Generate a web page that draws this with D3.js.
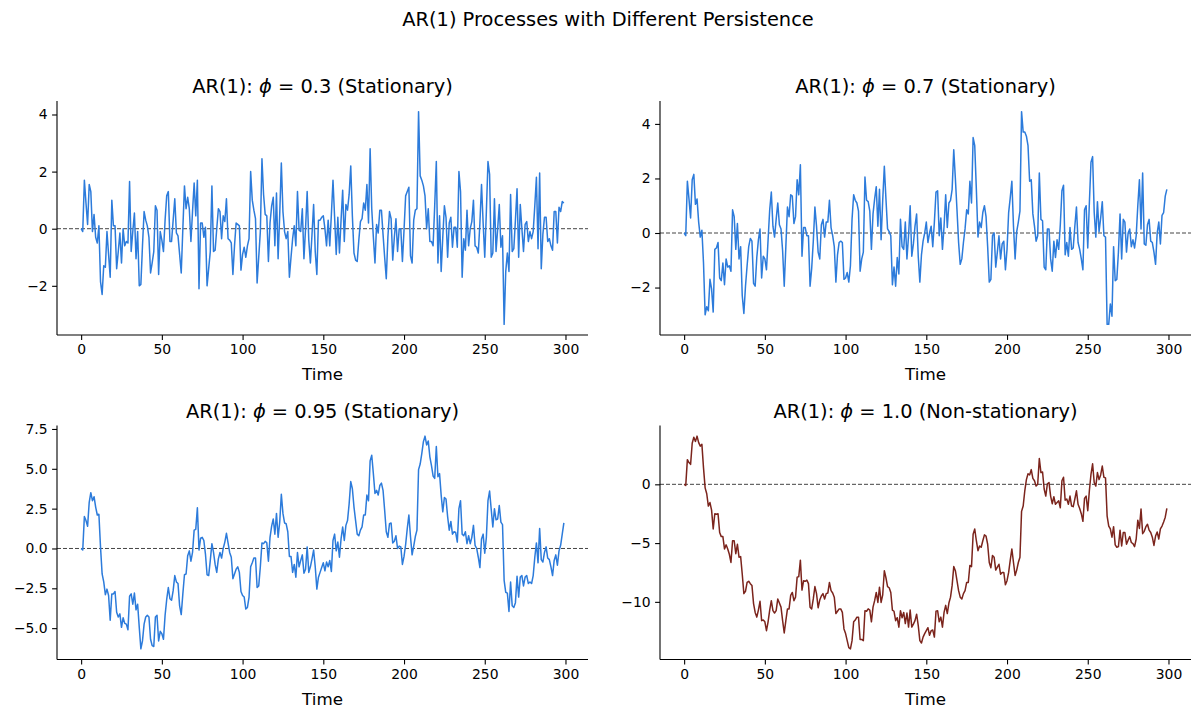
<!DOCTYPE html>
<html>
<head>
<meta charset="utf-8">
<script src="https://cdn.jsdelivr.net/npm/d3@7"></script>
<style>
  body { margin: 0; background: #fff; }
  svg { font-family: "DejaVu Sans", sans-serif; }
</style>
</head>
<body>
<div id="chart"></div>
<script>
// Series (t = 0..299)
const phi03 = [
  0.0, -0.1, 1.7, 0.9, 0.15, 1.55, 1.3, -0.1, 0.5, -0.3,
  -0.5, 0.1, -1.85, -2.3, -1.3, -1.35, -0.1, -0.9, -1.7, 1.0,
  0.1, 0.1, -1.4, -0.8, -0.15, -1.2, 0.0, -0.6, -0.45, -0.5,
  1.65, -0.8, -0.1, 0.55, -1.05, -0.1, -2.0, -1.95, -0.6, 0.6,
  0.3, 0.1, -0.3, -1.55, -1.2, -0.8, 0.8, 0.65, -1.6, -0.1,
  -0.4, -0.8, 0.3, 1.15, 1.3, -0.45, -0.45, 0.3, 1.05, -0.15,
  -0.25, -0.9, -1.55, 0.0, 1.5, 0.7, 1.1, 0.7, -0.45, 0.6,
  1.6, 0.45, 1.7, -2.1, 0.2, 0.2, -0.3, 0.05, -2.0, -1.4,
  -0.8, 1.5, -0.8, -0.75, 0.0, 0.7, 0.6, -0.35, 0.45, 0.25,
  1.05, -0.35, -0.4, -0.5, -1.6, -0.6, 0.2, 0.15, 0.1, -1.45,
  -0.9, -0.65, -1.0, -0.6, -0.35, 2.0, 1.0, 0.65, 0.35, -1.9,
  -1.0, -0.1, 2.45, 1.2, 0.5, 0.45, -1.15, 0.2, 0.8, 1.1,
  -0.6, 1.25, -1.05, 0.5, 2.3, 0.6, -0.1, -0.35, -0.1, -1.7,
  -1.0, -0.35, 0.1, -0.6, 1.3, -0.05, -0.1, 0.7, -1.05, 0.0,
  1.3, -0.4, -1.2, -0.2, 0.85, -0.8, -1.6, 0.3, 0.3, 0.4,
  0.45, 0.0, -0.6, 0.3, -0.6, 0.5, 1.7, 0.4, -0.9, 0.4,
  -0.85, 0.3, 1.35, -0.45, 0.85, 0.65, 1.2, 2.2, 0.45, -0.85,
  -1.1, -1.15, -0.4, 0.25, 0.35, 0.9, 0.65, 1.55, 0.2, 2.8,
  0.7, -0.3, -1.2, 0.15, -0.15, 0.65, 0.65, -0.2, -1.0, -1.75,
  -0.3, 0.6, 0.35, -1.1, -0.3, 0.35, -0.8, 0.0, 0.0, -1.15,
  -0.05, 1.15, 1.3, 1.45, -0.95, -1.2, 0.3, 0.65, 0.7, 4.1,
  1.85, 1.7, 1.5, 1.15, 0.0, 0.7, -0.45, -0.45, -0.6, 0.8,
  2.35, -1.2, 0.45, -1.5, -0.3, 0.8, 0.4, -1.0, 0.2, 0.4,
  -0.65, 0.05, 0.05, -0.65, 2.0, 1.3, -1.7, -0.35, -0.75, 0.65,
  -0.6, 0.0, 0.25, 1.0, -0.6, -0.65, -0.85, 0.2, 1.55, 0.2,
  -1.0, 0.6, 2.35, 1.9, -1.0, -0.85, 1.05, -0.8, 0.0, 0.85,
  -0.65, -0.25, -3.35, -1.5, -0.85, -1.5, 1.2, -0.8, -0.7, 0.3,
  1.4, -1.0, 0.85, 0.0, -0.8, 0.15, 0.25, -0.45, -0.1, -0.35,
  -0.1, 0.8, 1.8, -0.7, 1.95, -1.4, -0.2, 0.4, 0.4, -0.45,
  -0.35, -0.6, -0.75, 0.6, 0.6, -0.5, 0.75, 0.6, 0.95, 0.9
];

const phi07 = [
  0.0, -0.1, 1.9, 1.25, 0.55, 1.95, 2.15, 1.05, 1.25, 0.4,
  -0.15, 0.1, -1.1, -3.0, -2.7, -2.85, -1.7, -2.05, -2.9, -0.6,
  -0.55, -0.35, -1.65, -1.75, -1.1, -1.9, -0.95, -1.25, -1.2, -1.4,
  0.85, 0.6, -0.6, 0.35, -0.95, -0.5, -2.3, -2.95, -1.95, -1.2,
  -0.5, -0.2, -0.3, -1.85, -1.95, -0.9, -0.25, 0.15, -1.65, -0.85,
  -0.95, -1.35, -0.25, 0.85, 1.5, 0.25, -0.15, 0.5, 1.1, 0.3,
  0.15, -0.65, -1.95, -0.5, 0.95, 0.6, 1.4, 1.35, 0.35, 0.6,
  1.95, 1.4, 2.5, -0.85, 0.2, 0.2, -0.1, -0.1, -1.95, -1.3,
  -0.3, 0.95, 0.25, -0.7, -0.95, 0.3, 0.5, -0.15, 0.4, 0.4,
  1.2, 0.2, -0.1, -0.5, -1.8, -0.8, -0.35, -0.3, -0.35, -1.7,
  -1.65, -1.45, -1.8, -1.2, 0.5, 1.4, 1.2, 1.1, 0.8, -1.4,
  -0.95, -0.7, 2.05, 1.2, 1.15, 0.8, -0.6, 0.7, 1.25, 1.7,
  0.25, 1.6, -0.25, 1.2, 2.45, 1.25, 0.15, 0.05, -0.1, -1.9,
  -1.25, -1.95, -0.9, -1.5, 0.5, -0.5, -0.6, 0.4, -0.95, -0.1,
  1.0, -0.85, -0.4, 0.25, 0.7, -0.85, -1.8, -0.8, -0.3, 0.0,
  0.4, -0.35, 0.0, 0.25, -0.5, 0.4, 1.5, 1.55, -0.1, 0.55,
  -0.6, 0.25, 1.4, 0.2, 1.1, 1.2, 1.6, 3.05, 2.0, 0.85,
  -0.35, -1.15, -0.95, -0.35, 0.15, 0.85, 0.7, 1.9, 1.1, 3.5,
  3.2, 1.6, -0.15, 0.4, 0.2, 0.75, 1.0, 0.6, -0.5, -1.8,
  -1.7, -0.1, 0.0, -1.25, -0.7, -0.1, -0.95, -0.4, -0.3, -1.35,
  -0.6, 0.75, 1.3, 1.9, 0.25, -0.95, 0.05, 0.4, 0.8, 4.45,
  3.7, 3.7, 3.55, 3.2, 1.9, 1.95, 0.7, 0.25, -0.3, -0.1,
  2.2, 0.5, 0.45, -1.25, -1.35, 0.15, 0.15, -0.95, -1.4, -0.3,
  -0.9, -0.25, -0.6, 0.3, 1.55, 1.75, -0.8, -0.35, -0.85, 0.2,
  -0.6, -0.55, 0.25, 0.95, -0.35, -0.6, -0.95, -1.35, 0.85, 1.0,
  -0.55, 1.1, 2.6, 2.8, 0.75, -0.15, 1.15, 0.05, 0.55, 1.15,
  -0.1, -0.15, -3.35, -3.35, -2.6, -3.05, -0.5, -1.75, -1.7, -0.7,
  0.7, -0.95, 0.5, 0.4, -0.7, 0.0, 0.15, -0.5, -0.25, -0.55,
  -0.1, 1.0, 1.95, 0.15, 2.2, -0.4, -0.45, 0.3, 0.5, -0.3,
  -0.35, -0.7, -1.15, 0.0, 0.4, -0.4, 0.65, 0.75, 1.35, 1.6
];

const phi095 = [
  0.0, -0.1, 2.0, 1.75, 1.4, 2.9, 3.5, 3.0, 3.25, 2.6,
  2.1, 2.15, 0.1, -1.6, -2.1, -2.9, -2.55, -2.95, -4.5, -2.85,
  -2.85, -2.7, -4.0, -4.3, -4.1, -4.95, -4.35, -4.7, -4.75, -5.1,
  -3.0, -2.85, -3.5, -2.8, -3.85, -3.5, -4.95, -6.3, -5.8, -4.75,
  -4.3, -4.2, -4.3, -5.7, -6.1, -6.15, -4.3, -4.2, -5.8, -5.2,
  -5.35, -5.7, -4.2, -3.2, -2.45, -3.15, -3.25, -2.65, -1.7, -2.1,
  -2.2, -3.6, -4.15, -2.85, -1.65, -1.6, -0.45, -0.15, -0.8, -0.25,
  1.15, 1.2, 2.55, -0.1, 0.65, 0.7, 0.5, -0.35, -1.65, -1.7,
  -0.75, 0.3, -0.25, -1.0, -1.5, -0.65, -0.25, -0.6, 0.0, 0.4,
  0.95, 0.35, -0.25, -0.55, -1.9, -1.6, -1.3, -1.15, -1.5, -2.7,
  -2.95, -3.05, -3.8, -3.7, -3.05, -1.15, -0.9, -0.6, -0.6, -2.45,
  -2.35, -1.15, 0.35, 0.3, 0.45, 0.35, -0.8, 0.7, 1.4, 1.85,
  0.9, 2.2, 0.7, 1.65, 3.4, 2.2, 1.6, 1.55, 1.05, -0.5,
  -0.5, -1.5, -1.0, -1.8, -0.25, -1.15, -0.75, -0.4, -1.55, -1.3,
  0.1, -1.5, -1.15, -0.65, -0.1, -1.15, -2.55, -1.8, -1.5, -1.2,
  -0.9, -1.4, -0.85, -1.15, -0.75, -1.45, 0.5, 0.9, -0.15, 0.4,
  -0.55, 0.6, 1.35, 0.5, 1.45, 1.75, 2.8, 4.2, 3.75, 2.6,
  1.75, 0.9, 0.8, 1.15, 1.35, 2.1, 2.1, 3.35, 3.0, 5.5,
  5.85, 4.7, 3.45, 3.65, 3.35, 3.95, 4.1, 3.65, 2.4, 1.05,
  0.7, 1.55, 1.6, 0.35, 0.45, 0.8, 0.0, 0.15, 0.1, -1.0,
  -0.5, 0.25, 1.25, 2.1, 0.75, -0.4, 0.15, 0.75, 1.15, 4.95,
  5.3, 5.95, 6.7, 7.05, 6.5, 6.75, 5.75, 5.2, 4.55, 4.4,
  6.4, 4.5, 4.7, 3.35, 2.3, 3.2, 3.1, 2.0, 1.15, 1.7,
  0.9, 1.05, 1.0, 0.4, 2.5, 3.0, 0.9, 0.8, 1.05, 0.3,
  0.8, 0.3, 0.7, 1.45, 0.2, 0.0, -0.55, -1.2, 0.6, 0.9,
  -0.3, 0.7, 3.0, 3.6, 2.45, 1.35, 2.5, 1.8, 1.85, 2.7,
  1.65, 1.5, -2.0, -2.75, -2.8, -3.95, -2.1, -3.6, -3.7, -3.4,
  -1.75, -3.05, -1.8, -1.7, -2.35, -1.8, -1.7, -2.2, -2.1, -2.2,
  -1.7, -0.55, 0.35, -0.9, 1.25, -0.7, -0.85, -0.25, 0.1, -0.6,
  -0.7, -1.15, -1.7, -0.75, -0.4, -1.05, -0.15, 0.2, 0.9, 1.6
];

const phi10 = [
  0.0, -0.1, 2.1, 1.85, 1.7, 3.5, 4.0, 3.65, 4.1, 3.55,
  3.25, 3.4, 1.4, -0.3, -0.8, -1.85, -1.55, -2.2, -3.8, -2.5,
  -2.55, -2.5, -4.1, -4.45, -4.45, -5.5, -5.15, -5.5, -5.95, -6.65,
  -4.8, -4.8, -5.9, -5.1, -6.2, -6.15, -7.65, -9.3, -9.1, -8.35,
  -8.25, -8.45, -8.6, -10.15, -10.9, -11.3, -10.7, -9.95, -11.6, -11.55,
  -11.7, -12.45, -11.7, -10.7, -9.9, -10.75, -10.95, -10.75, -9.75, -10.1,
  -10.45, -11.6, -12.65, -11.6, -10.6, -10.6, -9.45, -9.2, -9.9, -9.6,
  -7.9, -7.85, -6.45, -9.0, -8.2, -8.25, -8.15, -8.45, -10.45, -10.6,
  -9.75, -8.7, -9.3, -10.5, -9.85, -9.5, -9.3, -9.75, -9.3, -9.25,
  -8.35, -9.05, -9.25, -9.6, -11.0, -10.8, -10.6, -10.6, -10.9, -12.3,
  -12.7, -13.3, -13.9, -14.0, -13.3, -11.7, -11.55, -11.3, -11.3, -13.2,
  -13.2, -13.3, -10.75, -10.8, -10.6, -10.7, -11.7, -10.45, -9.9, -9.2,
  -10.05, -8.75, -10.05, -9.4, -7.35, -7.95, -8.7, -8.8, -9.2, -10.7,
  -10.8, -11.6, -11.35, -12.15, -10.75, -11.35, -10.9, -11.85, -10.95, -12.15,
  -10.7, -12.15, -11.9, -11.6, -11.05, -12.0, -13.3, -13.5, -13.0, -12.7,
  -12.45, -12.2, -12.85, -12.45, -12.4, -13.0, -10.8, -10.75, -11.7, -11.3,
  -12.15, -10.9, -10.3, -11.0, -10.1, -9.6, -8.6, -7.0, -7.35, -8.2,
  -9.05, -9.6, -9.75, -9.3, -9.05, -8.35, -8.35, -6.9, -7.0, -4.25,
  -3.8, -4.8, -5.65, -5.25, -5.35, -4.8, -4.3, -4.4, -5.1, -6.65,
  -7.1, -6.05, -6.2, -7.3, -7.05, -6.8, -7.65, -7.5, -7.5, -8.55,
  -8.2, -7.5, -6.45, -5.5, -6.65, -7.75, -7.3, -6.65, -6.2, -2.3,
  -1.85, -0.55, 0.4, 0.9, 0.8, 1.25, 0.5, 0.3, -0.15, 0.0,
  2.2, 1.0, 1.05, -0.4, -1.0, 0.05, 0.15, -1.0, -1.65, -1.05,
  -1.7, -1.55, -1.4, -2.0, 0.3, 0.6, -1.35, -1.25, -1.7, -1.0,
  -1.85, -1.9, -1.25, -0.55, -1.7, -2.05, -2.5, -3.15, -1.2, -1.0,
  -2.25, -0.55, 0.85, 1.75, 0.15, -0.15, 1.0, 0.4, 0.8, 1.55,
  0.6, 0.55, -2.7, -3.55, -3.8, -4.5, -3.6, -5.15, -5.35, -5.3,
  -3.9, -5.25, -4.1, -4.1, -5.1, -4.75, -4.45, -4.95, -5.05, -5.3,
  -4.65, -3.05, -3.75, -2.1, -4.2, -4.0, -3.6, -3.4, -3.9, -4.1,
  -4.5, -5.2, -4.4, -4.05, -4.65, -3.8, -3.55, -3.2, -2.8, -2.05
];

const phiLabels = ["0.3", "0.7", "0.95", "1.0"];
const kindLabels = ["Stationary", "Stationary", "Stationary", "Non-stationary"];
const xTicks = [0, 50, 100, 150, 200, 250, 300];
const yTicksList = [
  [-2, 0, 2, 4],
  [-2, 0, 2, 4],
  [-5, -2.5, 0, 2.5, 5, 7.5],
  [-10, -5, 0]
];
const yFormats = ["d", "d", ".1f", "d"];
const seriesList = [phi03, phi07, phi095, phi10];
const colors = ["#2c7bdb", "#2c7bdb", "#2c7bdb", "#7b241c"];

// Layout
const W = 1201, H = 717;
const cols = [57, 660], axW = 531;
const rows = [101, 425.5], axH = 234;

const svg = d3.select("#chart")
  .append("svg")
  .attr("width", W)
  .attr("height", H);

svg.append("text")
  .attr("x", 608)
  .attr("y", 26)
  .attr("text-anchor", "middle")
  .attr("font-size", 19.4)
  .attr("fill", "#000")
  .text("AR(1) Processes with Different Persistence");

seriesList.forEach((values, i) => {
  const left = cols[i % 2], top = rows[Math.floor(i / 2)];
  const data = values.map((v, t) => ({t: t, v: v}));

  const x = d3.scaleLinear()
    .domain([-14.95, 313.95])
    .range([0, axW]);

  const [lo, hi] = d3.extent(values);
  const pad = (hi - lo) * 0.05;
  const y = d3.scaleLinear()
    .domain([lo - pad, hi + pad])
    .range([axH, 0]);

  const g = svg.append("g")
    .attr("transform", `translate(${left},${top})`);

  // zero reference line
  g.append("line")
    .attr("x1", 0).attr("x2", axW)
    .attr("y1", y(0)).attr("y2", y(0))
    .attr("stroke", "#444")
    .attr("stroke-width", 1)
    .attr("stroke-dasharray", "4,2");

  const line = d3.line()
    .x(d => x(d.t))
    .y(d => y(d.v));

  g.append("path")
    .datum(data)
    .attr("fill", "none")
    .attr("stroke", colors[i])
    .attr("stroke-width", 1.5)
    .attr("stroke-linejoin", "round")
    .attr("d", line);

  // axes
  const xAxis = g.append("g")
    .attr("transform", `translate(0,${axH})`)
    .call(d3.axisBottom(x).tickValues(xTicks).tickSize(4.9).tickPadding(4.5).tickSizeOuter(0));

  const yAxis = g.append("g")
    .call(d3.axisLeft(y).tickValues(yTicksList[i]).tickFormat(d3.format(yFormats[i]))
      .tickSize(4.9).tickPadding(4.5).tickSizeOuter(0));

  [xAxis, yAxis].forEach(a => {
    a.select(".domain").attr("stroke", "#000").attr("stroke-width", 1.1);
    a.selectAll(".tick line").attr("stroke", "#000").attr("stroke-width", 1.1);
    a.selectAll(".tick text")
      .attr("font-family", "DejaVu Sans, sans-serif")
      .attr("font-size", 13.9)
      .attr("fill", "#000");
  });

  // the x axis domain should span the whole axes width
  xAxis.select(".domain").attr("d", `M0,0H${axW}`);
  yAxis.select(".domain").attr("d", `M0,${axH}V0`);

  g.append("text")
    .attr("x", axW / 2)
    .attr("y", axH + 45)
    .attr("text-anchor", "middle")
    .attr("font-size", 16.7)
    .attr("fill", "#000")
    .text("Time");

  const title = g.append("text")
    .attr("x", axW / 2)
    .attr("y", -8)
    .attr("text-anchor", "middle")
    .attr("font-size", 19.4)
    .attr("fill", "#000");
  title.append("tspan").text("AR(1): ");
  title.append("tspan").attr("font-style", "italic").text("ϕ");
  title.append("tspan").text(` = ${phiLabels[i]} (${kindLabels[i]})`);
});
</script>
</body>
</html>
